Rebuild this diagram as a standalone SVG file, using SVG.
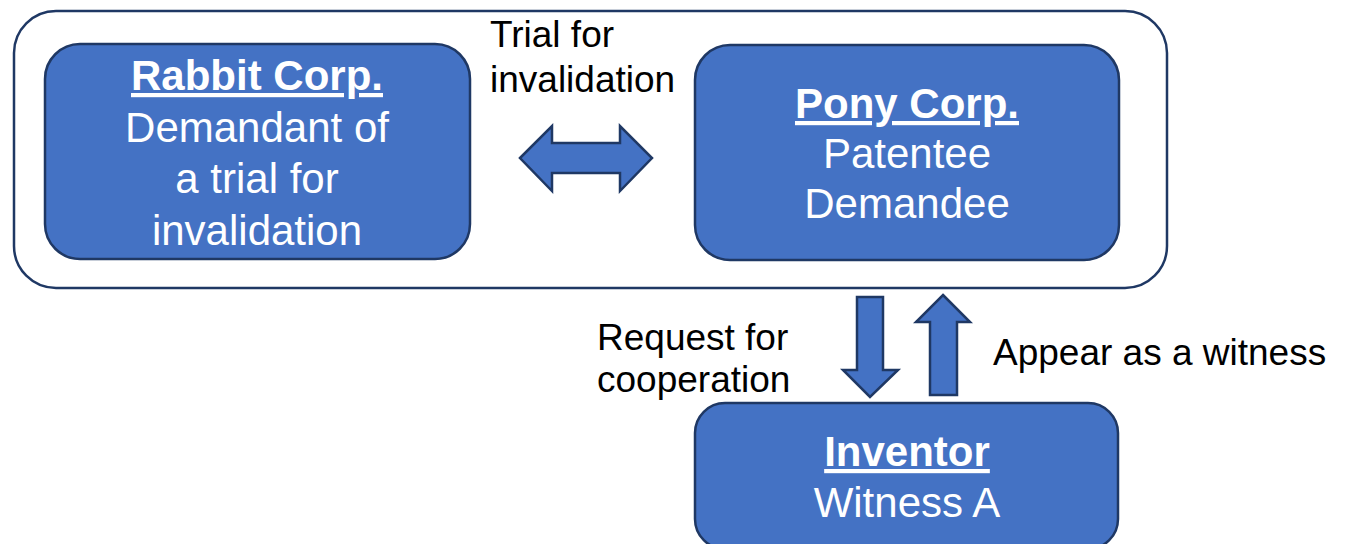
<svg xmlns="http://www.w3.org/2000/svg" width="1347" height="544" viewBox="0 0 1347 544">
<style>
.box{fill:#4472C4;stroke:#1F3864;stroke-width:2.5}
.frame{fill:#FFFFFF;stroke:#1F3864;stroke-width:2.5}
.arrow{fill:#4472C4;stroke:#1F3864;stroke-width:2.5;stroke-linejoin:miter}
.t{font-family:"Liberation Sans",Arial,sans-serif;font-size:42px;fill:#FFFFFF;text-anchor:middle}
.b{font-weight:bold;text-decoration:underline}
.lbl{font-family:"Liberation Sans",Arial,sans-serif;font-size:37px;fill:#000000}
</style>
<rect width="1347" height="544" fill="#FFFFFF"/>
<rect id="frame" class="frame" x="14" y="11" width="1153" height="277" rx="42" ry="42"/>
<g id="rabbit">
<rect class="box" x="45" y="44" width="425" height="215" rx="35" ry="35"/>
<text class="t b" x="257" y="90">Rabbit Corp.</text>
<text class="t" x="257" y="142">Demandant of</text>
<text class="t" x="257" y="193">a trial for</text>
<text class="t" x="257" y="245">invalidation</text>
</g>
<g id="pony">
<rect class="box" x="695" y="45" width="424" height="215" rx="35" ry="35"/>
<text class="t b" x="907" y="118">Pony Corp.</text>
<text class="t" x="907" y="168">Patentee</text>
<text class="t" x="907" y="218">Demandee</text>
</g>
<g id="inventor">
<rect class="box" x="695" y="403" width="423" height="146" rx="30" ry="30"/>
<text class="t b" x="907" y="466">Inventor</text>
<text class="t" x="907" y="517">Witness A</text>
</g>
<g id="connectors">
<polygon class="arrow" points="520,158 552,126 552,143 620,143 620,126 652,158 620,191 620,173 552,173 552,191"/>
<polygon class="arrow" points="857,297 883,297 883,370 898,370 870,397 843,370 857,370"/>
<polygon class="arrow" points="943,295 970,322 957,322 957,395 930,395 930,322 916,322"/>
</g>
<g id="labels">
<text class="lbl" x="490" y="47">Trial for</text>
<text class="lbl" x="490" y="92">invalidation</text>
<text class="lbl" x="597" y="350">Request for</text>
<text class="lbl" x="597" y="392">cooperation</text>
<text class="lbl" x="993" y="365">Appear as a witness</text>
</g>
</svg>
